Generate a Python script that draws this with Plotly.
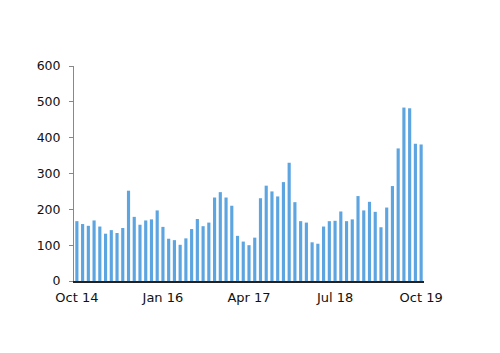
import plotly.graph_objects as go

values = [167, 159, 154, 169, 152, 132, 142, 134, 148, 252,
          179, 157, 169, 172, 197, 151, 118, 114, 101, 119,
          145, 173, 153, 163, 233, 248, 233, 210, 126, 110,
          100, 121, 231, 266, 250, 236, 276, 330, 220, 167,
          163, 108, 104, 152, 167, 168, 194, 167, 172, 237,
          197, 221, 193, 150, 205, 265, 370, 484, 482, 383, 381]
x_idx = list(range(len(values)))
tick_pos = [0, 15, 30, 45, 60]
tick_labels = ["Oct 14", "Jan 16", "Apr 17", "Jul 18", "Oct 19"]
y_ticks = [0, 100, 200, 300, 400, 500, 600]

fig = go.Figure(go.Bar(x=x_idx, y=values, marker_color="#5DA5E0",
                       marker_line_width=0))
fig.update_layout(
    width=500, height=353,
    margin=dict(l=74, r=76, t=66, b=72),
    paper_bgcolor="white", plot_bgcolor="white",
    bargap=0.45, showlegend=False,
    font=dict(family="DejaVu Sans", size=12, color="#111111"),
)
fig.update_xaxes(range=[-0.5, 60.5], tickvals=tick_pos, ticktext=tick_labels,
                 showgrid=False, zeroline=False, showline=True,
                 linecolor="#222222", linewidth=1.5, ticks="", ticklen=0,
                 ticklabelstandoff=4, tickfont=dict(size=13))
fig.update_yaxes(range=[0, 600], tickvals=y_ticks, showgrid=False,
                 zeroline=False, showline=True, linecolor="#888888",
                 linewidth=1, ticks="outside", ticklen=4, tickcolor="#888888",
                 ticklabelstandoff=6, tickfont=dict(size=12.5))
fig.write_html("out.html")
